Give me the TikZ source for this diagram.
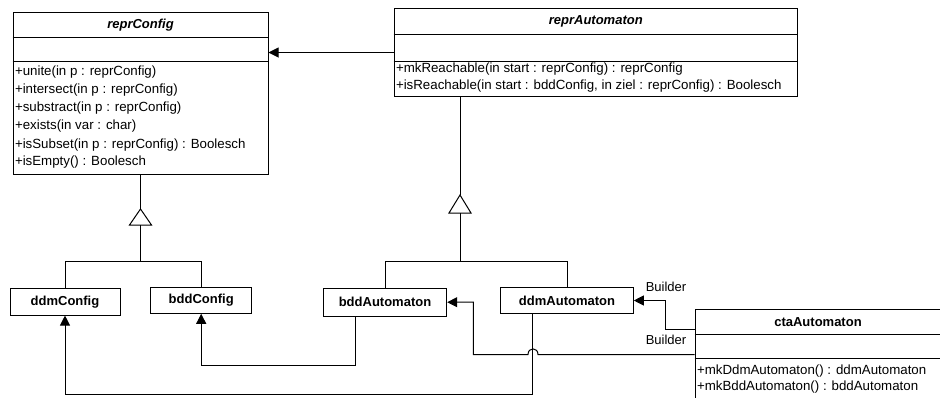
\documentclass[tikz,border=0pt]{standalone}
\usepackage{fontspec}
\setmainfont{Liberation Sans}
\usetikzlibrary{arrows.meta}
\begin{document}
\begin{tikzpicture}[x=1pt,y=-1pt, line width=1pt,
  cls/.style={draw, line width=1pt, inner sep=0pt},
  ttl/.style={font=\fontsize{13}{15}\selectfont\bfseries\itshape, inner sep=0pt},
  ctl/.style={font=\fontsize{13}{15}\selectfont\bfseries},
  meth/.style={font=\fontsize{13.3}{15}\selectfont, anchor=west, inner sep=0pt},
  arr/.style={-{Triangle[length=10pt,width=10pt]}},
  lbl/.style={font=\fontsize{13}{15}\selectfont, inner sep=0pt},
  gen/.style={draw, fill=white, line join=miter},
]
\useasboundingbox (0,0) rectangle (940,397);
\clip (0,0) rectangle (940,397);

% reprConfig
\node[cls, minimum width=255pt, minimum height=162pt] (rc) at (140.5,93) {};
\node[ttl] (rct) at (140.5,25) {reprConfig};
\draw (rc.west |- 0,37.7) -- (rc.east |- 0,37.7);
\draw (rc.west |- 0,61.7) -- (rc.east |- 0,61.7);
\node[meth] (rc1) at (14.5,72.3) {+unite(in p : reprConfig)};
\node[meth] (rc2) at (14.5,90.5) {+intersect(in p : reprConfig)};
\node[meth] (rc3) at (14.5,108.3) {+substract(in p : reprConfig)};
\node[meth] (rc4) at (14.5,126.5) {+exists(in var : char)};
\node[meth] (rc5) at (14.5,144.8) {+isSubset(in p : reprConfig) : Boolesch};
\node[meth] (rc6) at (14.5,162.5) {+isEmpty() : Boolesch};

% reprAutomaton
\node[cls, minimum width=403pt, minimum height=88.4pt] (ra) at (595.5,52.5) {};
\node[ttl] (rat) at (595.8,21.5) {reprAutomaton};
\draw (ra.west |- 0,34.3) -- (ra.east |- 0,34.3);
\draw (ra.west |- 0,61) -- (ra.east |- 0,61);
\node[meth] (ra1) at (395.5,69.3) {+mkReachable(in start : reprConfig) : reprConfig};
\node[meth] (ra2) at (395.5,86.3) {+isReachable(in start : bddConfig, in ziel : reprConfig) : Boolesch};

% association reprAutomaton -> reprConfig
\draw[arr] (ra.west) -- (rc.east |- ra.west);

% concrete classes
\node[cls, ctl, minimum width=110pt, minimum height=26.7pt] (ddmc) at (65,301.7) {ddmConfig};
\node[cls, ctl, minimum width=101pt, minimum height=26pt] (bddc) at (201.2,300.3) {bddConfig};
\node[cls, ctl, minimum width=123.4pt, minimum height=27.7pt] (bdda) at (385,302.2) {bddAutomaton};
\node[cls, ctl, minimum width=132.6pt, minimum height=25.6pt] (ddma) at (567,300.5) {ddmAutomaton};

% ctaAutomaton
\node[cls, minimum width=246pt, minimum height=91pt] (cta) at (818,354.5) {};
\node[ctl, inner sep=0pt] (ctat) at (818,321.7) {ctaAutomaton};
\draw (cta.west |- 0,334.3) -- (cta.east |- 0,334.3);
\draw (cta.west |- 0,358.3) -- (cta.east |- 0,358.3);
\node[meth] (cta1) at (696.5,371) {+mkDdmAutomaton() : ddmAutomaton};
\node[meth] (cta2) at (696.5,386.7) {+mkBddAutomaton() : bddAutomaton};

% generalization reprConfig
\coordinate (g1) at (140.5,209);
\coordinate (j1) at (140.5,261.7);
\draw (rc.south) -- (g1);
\draw[gen] (g1) -- ++(-11,16) -- ++(22,0) -- cycle;
\draw ([yshift=-16pt]g1) -- (j1);
\draw (ddmc.north) |- (j1) -| (bddc.north);

% generalization reprAutomaton
\coordinate (g2) at (460,195);
\coordinate (j2) at (460,261.7);
\draw (ra.south -| g2) -- (g2);
\draw[gen] (g2) -- ++(-11,18) -- ++(22,0) -- cycle;
\draw ([yshift=-18pt]g2) -- (j2);
\draw (bdda.north) |- (j2) -| (ddma.north);

% dependencies to configs
\draw[arr] ([xshift=-30pt]bdda.south) |- (bddc.south |- 0,365.7) -- (bddc.south);
\draw[arr] ([xshift=-34.3pt]ddma.south) |- (ddmc.south |- 0,394) -- (ddmc.south);

% Builder associations
\draw[arr] (cta.west |- 0,329.3) -| ([xshift=32pt]ddma.east) -- (ddma.east);
\node[lbl] (b1) at (666,286.7) {Builder};
\draw[arr] (cta.west) -- (538,354.5) .. controls (538,347) and (528,347) .. (528,354.5)
  -- (473.3,354.5) |- (bdda.east);
\node[lbl] (b2) at (666,340) {Builder};
\end{tikzpicture}
\end{document}
